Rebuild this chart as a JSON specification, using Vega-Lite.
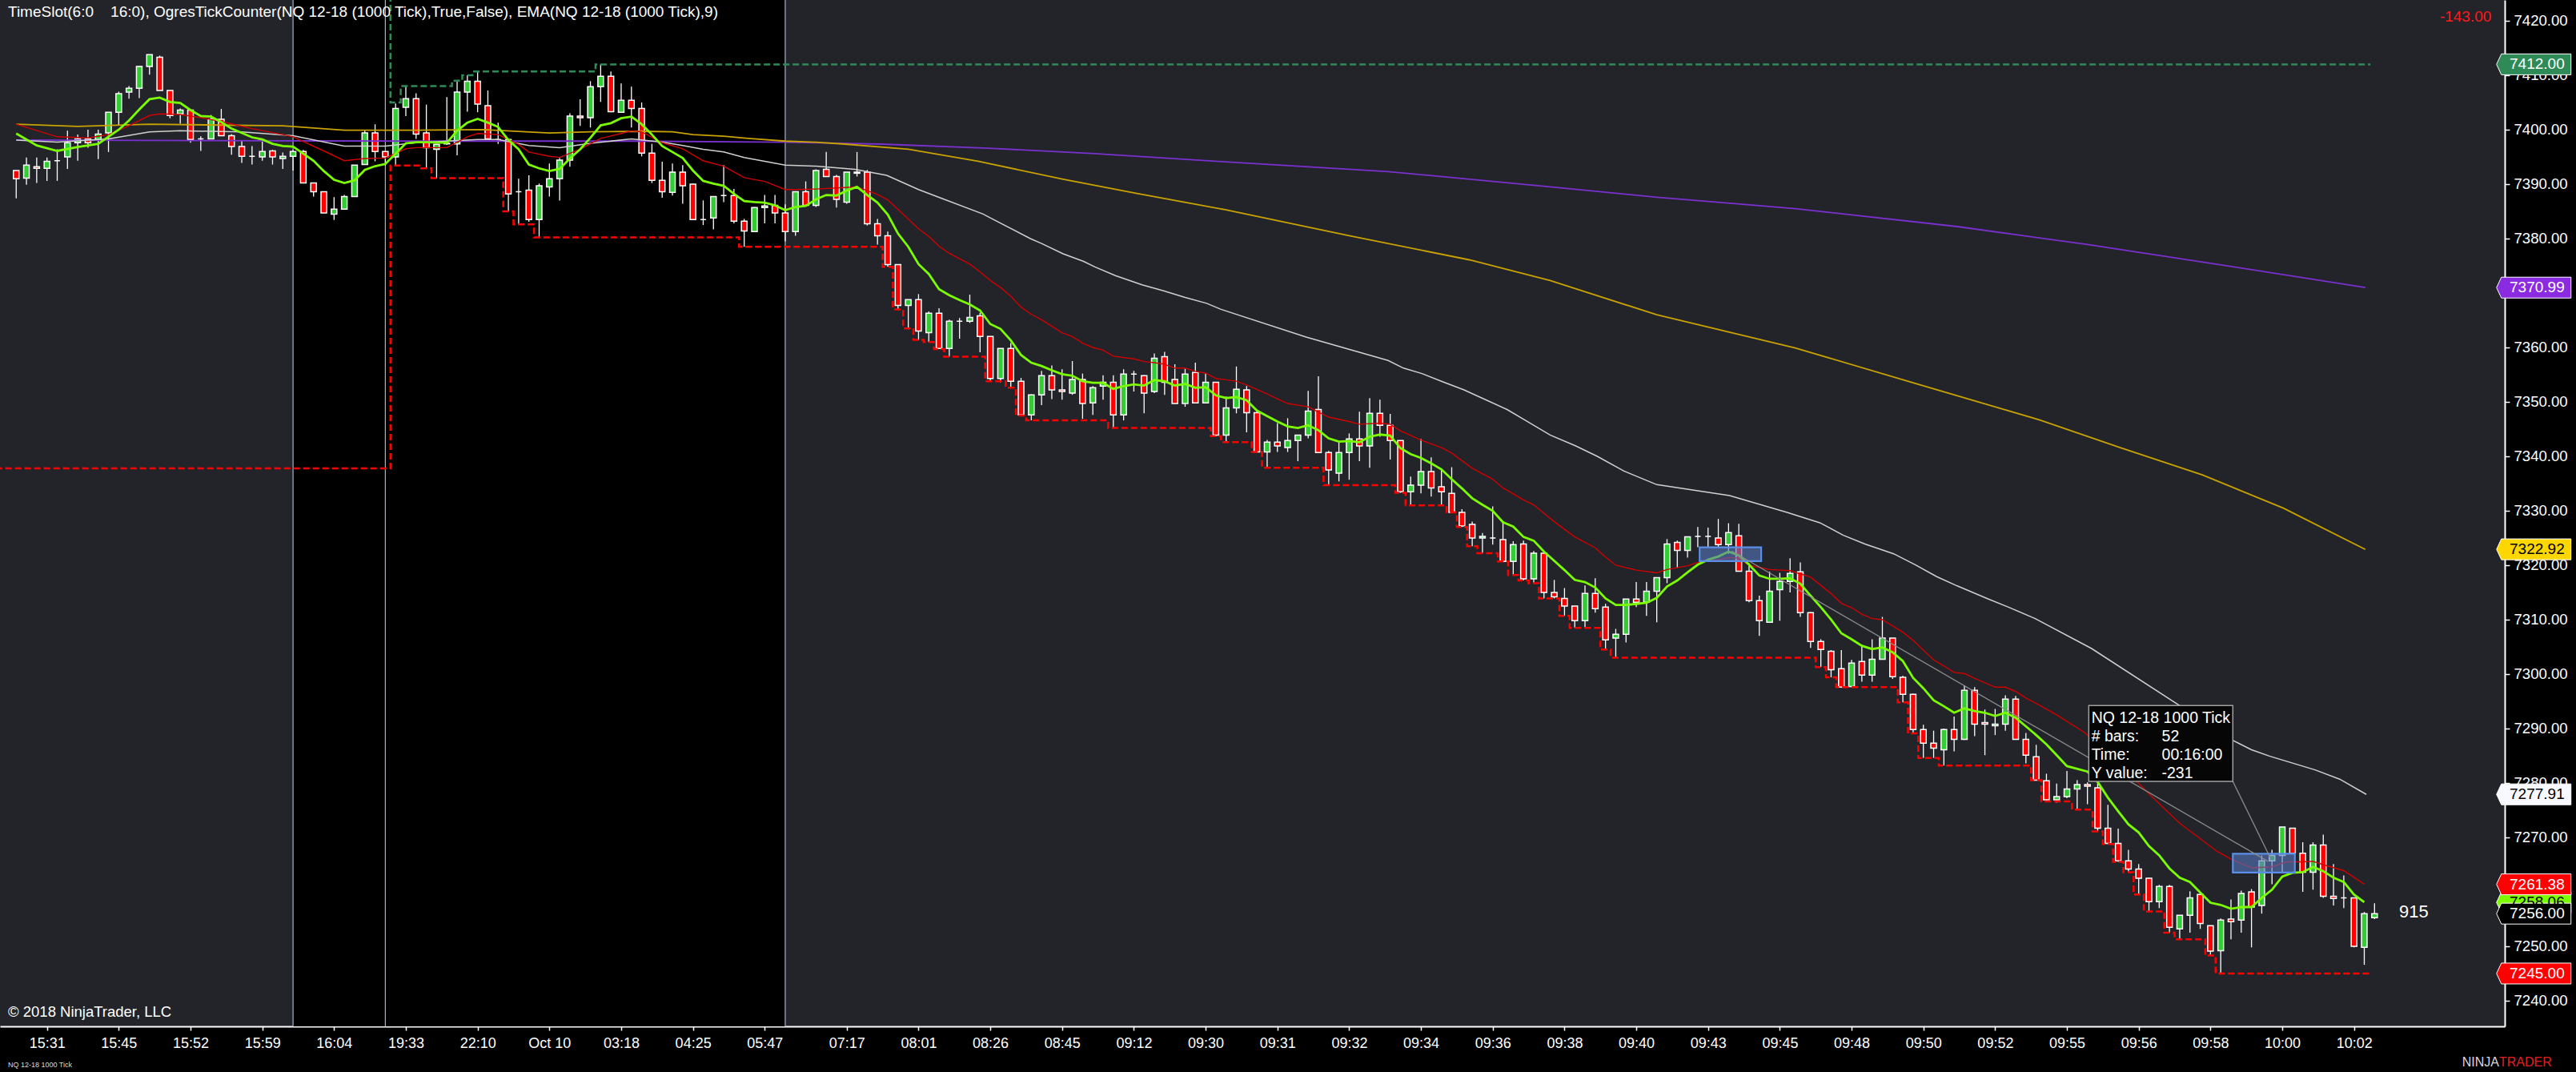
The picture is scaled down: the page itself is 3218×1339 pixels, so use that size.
{
  "$schema": "https://vega.github.io/schema/vega-lite/v6.json",
  "width": 3129,
  "height": 1282,
  "autosize": {"type": "none"},
  "padding": {"left": 0, "top": 0, "right": 89, "bottom": 57},
  "background": "#000000",
  "view": {"fill": "#222429", "stroke": null},
  "config": {
    "axis": {"grid": false, "labelFont": "Liberation Sans", "labelColor": "#ffffff", "tickColor": "#ffffff", "domainColor": "#ffffff"},
    "text": {"font": "Liberation Sans"}
  },
  "datasets": {
    "candles": [
      {"i":0,"o":7392.5,"h":7392.5,"l":7387.4,"c":7391.0},
      {"i":1,"o":7391.1,"h":7394.9,"l":7389.9,"c":7393.5},
      {"i":2,"o":7393.2,"h":7394.9,"l":7390.2,"c":7392.9},
      {"i":3,"o":7392.9,"h":7394.9,"l":7390.6,"c":7394.2},
      {"i":4,"o":7394.3,"h":7396.4,"l":7390.6,"c":7394.3},
      {"i":5,"o":7395.0,"h":7399.8,"l":7392.8,"c":7397.6},
      {"i":6,"o":7397.6,"h":7399.1,"l":7394.3,"c":7398.3},
      {"i":7,"o":7398.3,"h":7400.0,"l":7396.7,"c":7397.6},
      {"i":8,"o":7398.2,"h":7400.0,"l":7394.6,"c":7399.2},
      {"i":9,"o":7399.4,"h":7403.2,"l":7395.9,"c":7403.2},
      {"i":10,"o":7403.2,"h":7407.0,"l":7400.8,"c":7406.6},
      {"i":11,"o":7406.9,"h":7408.0,"l":7405.7,"c":7407.6},
      {"i":12,"o":7407.6,"h":7411.7,"l":7405.8,"c":7411.6},
      {"i":13,"o":7411.6,"h":7413.8,"l":7410.1,"c":7413.8},
      {"i":14,"o":7413.3,"h":7413.6,"l":7407.2,"c":7407.2},
      {"i":15,"o":7407.2,"h":7407.2,"l":7402.1,"c":7402.6},
      {"i":16,"o":7402.9,"h":7403.9,"l":7401.1,"c":7403.6},
      {"i":17,"o":7403.6,"h":7403.6,"l":7397.6,"c":7398.2},
      {"i":18,"o":7398.3,"h":7398.8,"l":7396.1,"c":7398.3},
      {"i":19,"o":7398.3,"h":7402.7,"l":7398.3,"c":7401.9},
      {"i":20,"o":7401.9,"h":7403.8,"l":7398.9,"c":7398.9},
      {"i":21,"o":7398.9,"h":7399.2,"l":7395.4,"c":7396.9},
      {"i":22,"o":7396.9,"h":7398.0,"l":7393.9,"c":7395.1},
      {"i":23,"o":7395.1,"h":7397.0,"l":7393.6,"c":7395.1},
      {"i":24,"o":7395.0,"h":7397.8,"l":7394.3,"c":7396.0},
      {"i":25,"o":7396.1,"h":7396.3,"l":7393.6,"c":7395.0},
      {"i":26,"o":7394.7,"h":7395.8,"l":7392.8,"c":7395.1},
      {"i":27,"o":7395.1,"h":7396.3,"l":7392.5,"c":7396.0},
      {"i":28,"o":7396.0,"h":7396.3,"l":7390.2,"c":7390.2},
      {"i":29,"o":7390.2,"h":7390.2,"l":7387.7,"c":7388.6},
      {"i":30,"o":7388.6,"h":7388.6,"l":7384.7,"c":7384.7},
      {"i":31,"o":7384.5,"h":7387.6,"l":7383.4,"c":7385.4},
      {"i":32,"o":7385.4,"h":7388.0,"l":7385.3,"c":7387.7},
      {"i":33,"o":7387.7,"h":7393.5,"l":7387.7,"c":7393.5},
      {"i":34,"o":7393.6,"h":7400.0,"l":7393.6,"c":7399.4},
      {"i":35,"o":7399.4,"h":7401.0,"l":7394.2,"c":7396.0},
      {"i":36,"o":7396.0,"h":7396.0,"l":7393.4,"c":7395.0},
      {"i":37,"o":7395.0,"h":7404.8,"l":7393.4,"c":7403.9},
      {"i":38,"o":7404.1,"h":7408.0,"l":7402.5,"c":7405.7},
      {"i":39,"o":7405.7,"h":7406.7,"l":7398.3,"c":7399.2},
      {"i":40,"o":7399.4,"h":7404.6,"l":7392.9,"c":7396.7},
      {"i":41,"o":7396.4,"h":7397.4,"l":7391.1,"c":7397.3},
      {"i":42,"o":7397.4,"h":7406.0,"l":7397.2,"c":7397.5},
      {"i":43,"o":7397.4,"h":7409.0,"l":7395.3,"c":7406.9},
      {"i":44,"o":7406.9,"h":7410.0,"l":7403.3,"c":7408.9},
      {"i":45,"o":7408.9,"h":7410.7,"l":7403.2,"c":7404.7},
      {"i":46,"o":7404.4,"h":7407.2,"l":7398.3,"c":7398.3},
      {"i":47,"o":7398.2,"h":7401.3,"l":7397.4,"c":7398.2},
      {"i":48,"o":7398.2,"h":7398.2,"l":7385.0,"c":7388.2},
      {"i":49,"o":7388.6,"h":7391.0,"l":7382.6,"c":7388.6},
      {"i":50,"o":7388.9,"h":7391.6,"l":7383.1,"c":7383.5},
      {"i":51,"o":7383.5,"h":7390.1,"l":7380.2,"c":7389.7},
      {"i":52,"o":7389.5,"h":7393.8,"l":7387.7,"c":7391.0},
      {"i":53,"o":7391.0,"h":7394.8,"l":7387.0,"c":7394.4},
      {"i":54,"o":7394.4,"h":7403.0,"l":7393.2,"c":7402.5},
      {"i":55,"o":7402.5,"h":7405.6,"l":7400.7,"c":7402.2},
      {"i":56,"o":7402.2,"h":7408.9,"l":7400.4,"c":7407.9},
      {"i":57,"o":7407.9,"h":7412.0,"l":7405.1,"c":7409.8},
      {"i":58,"o":7409.8,"h":7410.7,"l":7403.2,"c":7403.3},
      {"i":59,"o":7403.2,"h":7408.5,"l":7403.2,"c":7405.4},
      {"i":60,"o":7405.4,"h":7407.9,"l":7400.4,"c":7403.9},
      {"i":61,"o":7403.9,"h":7405.0,"l":7395.1,"c":7395.7},
      {"i":62,"o":7395.7,"h":7397.4,"l":7390.2,"c":7390.7},
      {"i":63,"o":7390.7,"h":7394.1,"l":7387.5,"c":7388.6},
      {"i":64,"o":7388.5,"h":7393.8,"l":7387.9,"c":7392.2},
      {"i":65,"o":7392.2,"h":7393.5,"l":7386.4,"c":7389.7},
      {"i":66,"o":7390.0,"h":7390.1,"l":7383.5,"c":7383.5},
      {"i":67,"o":7383.5,"h":7387.0,"l":7382.5,"c":7383.5},
      {"i":68,"o":7383.8,"h":7387.7,"l":7381.7,"c":7387.7},
      {"i":69,"o":7387.9,"h":7393.5,"l":7386.7,"c":7387.9},
      {"i":70,"o":7387.9,"h":7389.1,"l":7382.8,"c":7383.2},
      {"i":71,"o":7383.2,"h":7383.6,"l":7378.5,"c":7381.4},
      {"i":72,"o":7381.3,"h":7385.8,"l":7381.3,"c":7385.7},
      {"i":73,"o":7385.7,"h":7388.0,"l":7382.8,"c":7386.0},
      {"i":74,"o":7386.1,"h":7388.0,"l":7382.8,"c":7384.7},
      {"i":75,"o":7384.7,"h":7386.3,"l":7379.5,"c":7381.3},
      {"i":76,"o":7381.3,"h":7388.6,"l":7380.5,"c":7388.6},
      {"i":77,"o":7388.6,"h":7390.5,"l":7386.1,"c":7386.1},
      {"i":78,"o":7386.1,"h":7392.7,"l":7385.8,"c":7392.5},
      {"i":79,"o":7392.7,"h":7395.9,"l":7391.4,"c":7391.4},
      {"i":80,"o":7391.4,"h":7391.7,"l":7385.7,"c":7387.2},
      {"i":81,"o":7386.7,"h":7392.2,"l":7386.4,"c":7392.2},
      {"i":82,"o":7392.0,"h":7395.9,"l":7391.4,"c":7392.2},
      {"i":83,"o":7392.2,"h":7392.6,"l":7382.4,"c":7382.7},
      {"i":84,"o":7382.7,"h":7383.6,"l":7378.9,"c":7380.5},
      {"i":85,"o":7380.5,"h":7381.3,"l":7374.8,"c":7375.2},
      {"i":86,"o":7375.2,"h":7375.2,"l":7367.0,"c":7367.7},
      {"i":87,"o":7367.7,"h":7368.8,"l":7363.5,"c":7368.8},
      {"i":88,"o":7368.8,"h":7369.8,"l":7361.4,"c":7363.0},
      {"i":89,"o":7362.7,"h":7366.6,"l":7361.0,"c":7366.3},
      {"i":90,"o":7366.3,"h":7367.2,"l":7359.7,"c":7359.8},
      {"i":91,"o":7359.8,"h":7365.1,"l":7358.3,"c":7364.8},
      {"i":92,"o":7364.8,"h":7365.4,"l":7361.6,"c":7364.8},
      {"i":93,"o":7364.8,"h":7369.7,"l":7364.5,"c":7365.5},
      {"i":94,"o":7365.8,"h":7366.4,"l":7359.1,"c":7362.0},
      {"i":95,"o":7362.0,"h":7362.0,"l":7353.8,"c":7354.3},
      {"i":96,"o":7354.3,"h":7359.8,"l":7353.6,"c":7359.8},
      {"i":97,"o":7359.8,"h":7360.8,"l":7352.6,"c":7353.8},
      {"i":98,"o":7353.8,"h":7354.4,"l":7347.5,"c":7347.6},
      {"i":99,"o":7347.6,"h":7351.4,"l":7346.6,"c":7351.3},
      {"i":100,"o":7351.3,"h":7355.7,"l":7349.4,"c":7354.8},
      {"i":101,"o":7354.8,"h":7356.7,"l":7350.5,"c":7352.2},
      {"i":102,"o":7352.2,"h":7356.0,"l":7350.4,"c":7351.9},
      {"i":103,"o":7351.6,"h":7357.5,"l":7351.3,"c":7354.1},
      {"i":104,"o":7354.1,"h":7355.2,"l":7346.9,"c":7349.7},
      {"i":105,"o":7349.8,"h":7352.9,"l":7347.6,"c":7352.6},
      {"i":106,"o":7352.9,"h":7354.9,"l":7350.4,"c":7353.6},
      {"i":107,"o":7353.6,"h":7354.9,"l":7345.2,"c":7347.6},
      {"i":108,"o":7347.6,"h":7356.0,"l":7346.6,"c":7355.1},
      {"i":109,"o":7355.1,"h":7355.7,"l":7351.9,"c":7355.1},
      {"i":110,"o":7354.8,"h":7354.9,"l":7347.9,"c":7351.6},
      {"i":111,"o":7351.9,"h":7358.9,"l":7351.6,"c":7358.0},
      {"i":112,"o":7358.3,"h":7359.2,"l":7351.3,"c":7353.6},
      {"i":113,"o":7354.1,"h":7356.9,"l":7349.7,"c":7349.7},
      {"i":114,"o":7349.7,"h":7356.1,"l":7349.1,"c":7355.1},
      {"i":115,"o":7355.4,"h":7357.2,"l":7349.8,"c":7349.8},
      {"i":116,"o":7349.8,"h":7355.2,"l":7349.7,"c":7353.6},
      {"i":117,"o":7353.6,"h":7353.6,"l":7343.7,"c":7343.9},
      {"i":118,"o":7343.9,"h":7351.0,"l":7342.6,"c":7348.9},
      {"i":119,"o":7348.9,"h":7356.5,"l":7347.9,"c":7352.3},
      {"i":120,"o":7352.2,"h":7352.9,"l":7344.4,"c":7348.0},
      {"i":121,"o":7348.0,"h":7348.3,"l":7340.8,"c":7340.8},
      {"i":122,"o":7340.8,"h":7343.0,"l":7337.9,"c":7342.6},
      {"i":123,"o":7342.6,"h":7346.1,"l":7340.8,"c":7341.9},
      {"i":124,"o":7341.6,"h":7347.0,"l":7340.8,"c":7342.9},
      {"i":125,"o":7342.9,"h":7343.9,"l":7339.1,"c":7343.9},
      {"i":126,"o":7343.9,"h":7352.0,"l":7343.3,"c":7348.3},
      {"i":127,"o":7348.6,"h":7354.7,"l":7340.7,"c":7340.7},
      {"i":128,"o":7340.7,"h":7341.0,"l":7334.7,"c":7337.5},
      {"i":129,"o":7336.9,"h":7342.5,"l":7335.4,"c":7340.7},
      {"i":130,"o":7340.7,"h":7344.2,"l":7335.7,"c":7343.2},
      {"i":131,"o":7343.2,"h":7348.2,"l":7339.1,"c":7341.9},
      {"i":132,"o":7341.9,"h":7350.7,"l":7337.9,"c":7347.9},
      {"i":133,"o":7347.9,"h":7350.4,"l":7343.6,"c":7345.7},
      {"i":134,"o":7345.7,"h":7347.8,"l":7339.4,"c":7342.9},
      {"i":135,"o":7342.9,"h":7342.9,"l":7333.3,"c":7333.5},
      {"i":136,"o":7333.5,"h":7336.3,"l":7331.0,"c":7334.7},
      {"i":137,"o":7334.7,"h":7343.2,"l":7333.2,"c":7337.2},
      {"i":138,"o":7337.2,"h":7339.8,"l":7332.6,"c":7334.2},
      {"i":139,"o":7334.4,"h":7337.5,"l":7331.0,"c":7333.5},
      {"i":140,"o":7333.2,"h":7338.0,"l":7329.7,"c":7329.7},
      {"i":141,"o":7329.7,"h":7330.3,"l":7327.0,"c":7327.2},
      {"i":142,"o":7327.5,"h":7328.0,"l":7323.5,"c":7325.0},
      {"i":143,"o":7325.0,"h":7325.9,"l":7322.2,"c":7325.3},
      {"i":144,"o":7325.0,"h":7330.8,"l":7323.8,"c":7325.0},
      {"i":145,"o":7324.7,"h":7327.8,"l":7320.7,"c":7320.7},
      {"i":146,"o":7320.7,"h":7324.4,"l":7318.2,"c":7323.8},
      {"i":147,"o":7323.9,"h":7324.5,"l":7317.2,"c":7317.5},
      {"i":148,"o":7317.5,"h":7322.6,"l":7316.7,"c":7322.2},
      {"i":149,"o":7322.2,"h":7322.2,"l":7313.9,"c":7315.0},
      {"i":150,"o":7315.0,"h":7317.3,"l":7313.9,"c":7314.2},
      {"i":151,"o":7313.9,"h":7315.8,"l":7310.7,"c":7312.5},
      {"i":152,"o":7312.5,"h":7312.5,"l":7308.5,"c":7309.8},
      {"i":153,"o":7309.8,"h":7316.3,"l":7308.6,"c":7314.8},
      {"i":154,"o":7314.8,"h":7317.6,"l":7311.3,"c":7312.0},
      {"i":155,"o":7312.3,"h":7312.9,"l":7304.5,"c":7306.3},
      {"i":156,"o":7306.6,"h":7308.3,"l":7303.0,"c":7307.3},
      {"i":157,"o":7307.3,"h":7313.8,"l":7305.8,"c":7313.8},
      {"i":158,"o":7313.8,"h":7316.9,"l":7312.3,"c":7313.2},
      {"i":159,"o":7313.2,"h":7316.9,"l":7310.7,"c":7315.2},
      {"i":160,"o":7315.2,"h":7317.7,"l":7309.5,"c":7317.7},
      {"i":161,"o":7317.7,"h":7324.8,"l":7316.7,"c":7323.9},
      {"i":162,"o":7324.2,"h":7324.5,"l":7319.5,"c":7322.7},
      {"i":163,"o":7322.7,"h":7325.2,"l":7321.4,"c":7325.2},
      {"i":164,"o":7325.3,"h":7327.0,"l":7323.3,"c":7325.3},
      {"i":165,"o":7325.3,"h":7326.9,"l":7323.3,"c":7325.3},
      {"i":166,"o":7325.0,"h":7328.5,"l":7323.3,"c":7323.8},
      {"i":167,"o":7323.8,"h":7327.7,"l":7322.1,"c":7326.0},
      {"i":168,"o":7325.4,"h":7327.6,"l":7318.9,"c":7318.9},
      {"i":169,"o":7318.9,"h":7320.4,"l":7313.2,"c":7313.5},
      {"i":170,"o":7313.5,"h":7314.4,"l":7307.0,"c":7309.8},
      {"i":171,"o":7309.5,"h":7318.8,"l":7309.5,"c":7315.2},
      {"i":172,"o":7315.5,"h":7318.6,"l":7309.8,"c":7317.0},
      {"i":173,"o":7317.0,"h":7321.3,"l":7315.0,"c":7318.5},
      {"i":174,"o":7318.8,"h":7320.5,"l":7310.5,"c":7311.3},
      {"i":175,"o":7311.3,"h":7311.4,"l":7304.8,"c":7306.0},
      {"i":176,"o":7306.0,"h":7306.4,"l":7301.3,"c":7304.5},
      {"i":177,"o":7304.2,"h":7304.4,"l":7299.4,"c":7300.8},
      {"i":178,"o":7301.0,"h":7304.4,"l":7297.6,"c":7297.6},
      {"i":179,"o":7297.7,"h":7302.6,"l":7297.6,"c":7302.0},
      {"i":180,"o":7302.3,"h":7305.4,"l":7298.6,"c":7299.8},
      {"i":181,"o":7299.8,"h":7306.4,"l":7298.6,"c":7302.7},
      {"i":182,"o":7302.7,"h":7310.5,"l":7302.7,"c":7306.6},
      {"i":183,"o":7306.6,"h":7306.6,"l":7299.1,"c":7299.5},
      {"i":184,"o":7299.4,"h":7299.7,"l":7294.8,"c":7296.3},
      {"i":185,"o":7296.3,"h":7296.4,"l":7289.1,"c":7289.8},
      {"i":186,"o":7289.8,"h":7290.7,"l":7284.6,"c":7287.3},
      {"i":187,"o":7287.3,"h":7289.6,"l":7284.6,"c":7286.4},
      {"i":188,"o":7286.1,"h":7290.0,"l":7283.2,"c":7289.8},
      {"i":189,"o":7289.8,"h":7292.2,"l":7285.8,"c":7288.0},
      {"i":190,"o":7288.0,"h":7297.9,"l":7287.9,"c":7297.0},
      {"i":191,"o":7297.0,"h":7297.6,"l":7288.6,"c":7290.8},
      {"i":192,"o":7291.1,"h":7293.5,"l":7285.1,"c":7290.8},
      {"i":193,"o":7290.5,"h":7293.6,"l":7288.8,"c":7290.8},
      {"i":194,"o":7290.8,"h":7296.1,"l":7289.6,"c":7295.4},
      {"i":195,"o":7295.4,"h":7296.0,"l":7288.0,"c":7288.0},
      {"i":196,"o":7288.0,"h":7289.2,"l":7283.6,"c":7285.1},
      {"i":197,"o":7284.8,"h":7287.0,"l":7280.5,"c":7280.5},
      {"i":198,"o":7280.4,"h":7281.7,"l":7276.6,"c":7276.9},
      {"i":199,"o":7276.9,"h":7279.9,"l":7276.4,"c":7277.5},
      {"i":200,"o":7277.5,"h":7282.2,"l":7277.2,"c":7278.9},
      {"i":201,"o":7278.9,"h":7280.5,"l":7275.1,"c":7279.7},
      {"i":202,"o":7279.7,"h":7280.1,"l":7276.1,"c":7279.4},
      {"i":203,"o":7279.1,"h":7281.3,"l":7271.1,"c":7271.7},
      {"i":204,"o":7271.7,"h":7276.0,"l":7268.8,"c":7268.9},
      {"i":205,"o":7268.9,"h":7271.6,"l":7265.5,"c":7265.7},
      {"i":206,"o":7265.7,"h":7267.7,"l":7263.6,"c":7264.2},
      {"i":207,"o":7264.2,"h":7265.1,"l":7259.5,"c":7262.5},
      {"i":208,"o":7262.5,"h":7262.6,"l":7256.4,"c":7258.2},
      {"i":209,"o":7258.2,"h":7261.3,"l":7257.0,"c":7261.0},
      {"i":210,"o":7261.0,"h":7261.3,"l":7252.5,"c":7253.5},
      {"i":211,"o":7253.2,"h":7255.7,"l":7251.3,"c":7255.7},
      {"i":212,"o":7255.7,"h":7260.1,"l":7252.5,"c":7258.9},
      {"i":213,"o":7259.5,"h":7259.8,"l":7253.2,"c":7254.2},
      {"i":214,"o":7253.8,"h":7253.8,"l":7248.3,"c":7249.1},
      {"i":215,"o":7249.2,"h":7255.1,"l":7245.0,"c":7254.8},
      {"i":216,"o":7255.0,"h":7258.6,"l":7251.3,"c":7254.5},
      {"i":217,"o":7254.8,"h":7260.2,"l":7252.5,"c":7259.7},
      {"i":218,"o":7260.0,"h":7260.5,"l":7249.8,"c":7257.2},
      {"i":219,"o":7257.5,"h":7266.7,"l":7256.0,"c":7265.7},
      {"i":220,"o":7265.7,"h":7267.7,"l":7261.4,"c":7266.7},
      {"i":221,"o":7266.7,"h":7271.9,"l":7263.6,"c":7271.9},
      {"i":222,"o":7271.7,"h":7271.7,"l":7267.1,"c":7267.1},
      {"i":223,"o":7267.1,"h":7269.1,"l":7260.0,"c":7263.6},
      {"i":224,"o":7263.6,"h":7269.1,"l":7260.4,"c":7268.6},
      {"i":225,"o":7268.6,"h":7270.5,"l":7258.9,"c":7259.2},
      {"i":226,"o":7259.2,"h":7265.1,"l":7257.5,"c":7258.8},
      {"i":227,"o":7258.9,"h":7263.0,"l":7257.0,"c":7258.9},
      {"i":228,"o":7258.9,"h":7258.9,"l":7249.8,"c":7250.0},
      {"i":229,"o":7249.8,"h":7256.3,"l":7246.6,"c":7256.0},
      {"i":230,"o":7255.25,"h":7257.9,"l":7255.0,"c":7256.0}
    ],
    "ma": [
      {"s":"p","i":0,"v":7398.1},{"s":"p","i":39,"v":7397.9},{"s":"p","i":60,"v":7397.9},{"s":"p","i":75,"v":7397.7},{"s":"p","i":78,"v":7397.6},{"s":"p","i":84.4,"v":7397.35},{"s":"p","i":94.8,"v":7396.6},{"s":"p","i":105.2,"v":7395.6},{"s":"p","i":117.9,"v":7394.1},{"s":"p","i":133.8,"v":7392.3},{"s":"p","i":149.6,"v":7389.5},{"s":"p","i":160,"v":7387.6},{"s":"p","i":173.5,"v":7385.5},{"s":"p","i":189.3,"v":7382.2},{"s":"p","i":202,"v":7378.9},{"s":"p","i":216.3,"v":7374.8},{"s":"p","i":229.1,"v":7371.0},
      {"s":"y","i":0,"v":7401.0},{"s":"y","i":6,"v":7400.6},{"s":"y","i":13,"v":7401.0},{"s":"y","i":26,"v":7400.7},{"s":"y","i":32,"v":7399.9},{"s":"y","i":39,"v":7399.9},{"s":"y","i":45.5,"v":7400.0},{"s":"y","i":52,"v":7399.4},{"s":"y","i":56,"v":7399.6},{"s":"y","i":61,"v":7399.7},{"s":"y","i":64,"v":7399.6},{"s":"y","i":66,"v":7399.1},{"s":"y","i":69,"v":7398.8},{"s":"y","i":71.4,"v":7398.4},{"s":"y","i":75,"v":7397.9},{"s":"y","i":78,"v":7397.7},{"s":"y","i":80.8,"v":7397.35},{"s":"y","i":87,"v":7396.4},{"s":"y","i":93.8,"v":7394.2},{"s":"y","i":102.1,"v":7390.9},{"s":"y","i":109.3,"v":7388.3},{"s":"y","i":117.9,"v":7385.3},{"s":"y","i":129.8,"v":7380.6},{"s":"y","i":141.7,"v":7376.1},{"s":"y","i":149.6,"v":7372.3},{"s":"y","i":160,"v":7366.0},{"s":"y","i":173.5,"v":7359.9},{"s":"y","i":185.4,"v":7353.3},{"s":"y","i":197.3,"v":7346.7},{"s":"y","i":205.2,"v":7341.6},{"s":"y","i":213.2,"v":7336.6},{"s":"y","i":221.1,"v":7330.5},{"s":"y","i":229.1,"v":7322.9},
      {"s":"w","i":0,"v":7398.1},{"s":"w","i":4,"v":7397.7},{"s":"w","i":9,"v":7398.3},{"s":"w","i":13,"v":7399.6},{"s":"w","i":16,"v":7399.8},{"s":"w","i":22,"v":7399.6},{"s":"w","i":27,"v":7398.9},{"s":"w","i":32,"v":7397.0},{"s":"w","i":36,"v":7397.0},{"s":"w","i":39,"v":7397.6},{"s":"w","i":45,"v":7398.2},{"s":"w","i":47,"v":7398.2},{"s":"w","i":50,"v":7397.1},{"s":"w","i":53,"v":7396.7},{"s":"w","i":56,"v":7397.5},{"s":"w","i":60,"v":7398.3},{"s":"w","i":63,"v":7397.7},{"s":"w","i":65,"v":7397.1},{"s":"w","i":67,"v":7396.4},{"s":"w","i":69,"v":7395.9},{"s":"w","i":71,"v":7394.9},{"s":"w","i":73,"v":7394.2},{"s":"w","i":75,"v":7393.5},{"s":"w","i":78,"v":7393.3},{"s":"w","i":81.8,"v":7392.7},{"s":"w","i":84.9,"v":7391.6},{"s":"w","i":88,"v":7389.0},{"s":"w","i":90.1,"v":7387.5},{"s":"w","i":94.3,"v":7384.5},{"s":"w","i":95.3,"v":7383.5},{"s":"w","i":98.9,"v":7380.0},{"s":"w","i":100,"v":7379.1},{"s":"w","i":102.1,"v":7377.2},{"s":"w","i":104.1,"v":7375.8},{"s":"w","i":105.2,"v":7374.8},{"s":"w","i":107.2,"v":7373.2},{"s":"w","i":109.8,"v":7371.5},{"s":"w","i":111.9,"v":7370.4},{"s":"w","i":114,"v":7369.2},{"s":"w","i":116.1,"v":7368.1},{"s":"w","i":117.5,"v":7367.0},{"s":"w","i":125.8,"v":7361.9},{"s":"w","i":133.8,"v":7357.6},{"s":"w","i":135.3,"v":7356.2},{"s":"w","i":137.1,"v":7355.2},{"s":"w","i":139.1,"v":7353.7},{"s":"w","i":141.2,"v":7352.2},{"s":"w","i":143.3,"v":7350.4},{"s":"w","i":145.4,"v":7348.6},{"s":"w","i":147.2,"v":7346.6},{"s":"w","i":149.6,"v":7343.9},{"s":"w","i":152.1,"v":7341.9},{"s":"w","i":154.2,"v":7340.0},{"s":"w","i":156.8,"v":7337.3},{"s":"w","i":160,"v":7334.8},{"s":"w","i":167.1,"v":7332.8},{"s":"w","i":172.7,"v":7329.7},{"s":"w","i":175.9,"v":7327.8},{"s":"w","i":178.2,"v":7325.5},{"s":"w","i":180.3,"v":7323.9},{"s":"w","i":183.1,"v":7322.1},{"s":"w","i":185.2,"v":7320.1},{"s":"w","i":187.3,"v":7317.9},{"s":"w","i":189.3,"v":7316.2},{"s":"w","i":192.2,"v":7313.9},{"s":"w","i":194.3,"v":7312.3},{"s":"w","i":196.9,"v":7310.2},{"s":"w","i":202.4,"v":7304.7},{"s":"w","i":211,"v":7294.2},{"s":"w","i":216.2,"v":7287.8},{"s":"w","i":218,"v":7286.1},{"s":"w","i":219.8,"v":7284.9},{"s":"w","i":224.2,"v":7282.4},{"s":"w","i":226.6,"v":7280.7},{"s":"w","i":229.2,"v":7277.9},
      {"s":"r","i":0,"v":7401.0},{"s":"r","i":4,"v":7398.7},{"s":"r","i":7,"v":7398.5},{"s":"r","i":9,"v":7399.1},{"s":"r","i":11,"v":7400.7},{"s":"r","i":13,"v":7402.6},{"s":"r","i":14,"v":7402.9},{"s":"r","i":16,"v":7402.8},{"s":"r","i":18,"v":7402.2},{"s":"r","i":20,"v":7401.5},{"s":"r","i":23,"v":7400.2},{"s":"r","i":26,"v":7399.1},{"s":"r","i":27,"v":7398.7},{"s":"r","i":30,"v":7396.1},{"s":"r","i":32,"v":7394.3},{"s":"r","i":34,"v":7394.7},{"s":"r","i":36,"v":7394.8},{"s":"r","i":38,"v":7396.5},{"s":"r","i":39,"v":7396.7},{"s":"r","i":42,"v":7396.7},{"s":"r","i":44,"v":7398.7},{"s":"r","i":45,"v":7399.3},{"s":"r","i":47,"v":7399.1},{"s":"r","i":49,"v":7397.3},{"s":"r","i":50,"v":7395.9},{"s":"r","i":52,"v":7395.1},{"s":"r","i":53,"v":7394.9},{"s":"r","i":55,"v":7396.4},{"s":"r","i":57,"v":7398.4},{"s":"r","i":59,"v":7399.3},{"s":"r","i":60,"v":7399.8},{"s":"r","i":61,"v":7399.6},{"s":"r","i":63,"v":7397.6},{"s":"r","i":65,"v":7396.5},{"s":"r","i":67,"v":7394.3},{"s":"r","i":69,"v":7393.3},{"s":"r","i":71,"v":7391.2},{"s":"r","i":73,"v":7390.5},{"s":"r","i":75,"v":7389.0},{"s":"r","i":76,"v":7389.0},{"s":"r","i":78,"v":7389.1},{"s":"r","i":80,"v":7389.3},{"s":"r","i":82,"v":7389.5},{"s":"r","i":84,"v":7388.1},{"s":"r","i":85,"v":7387.1},{"s":"r","i":87,"v":7383.6},{"s":"r","i":88,"v":7381.8},{"s":"r","i":89,"v":7380.4},{"s":"r","i":90,"v":7378.6},{"s":"r","i":91,"v":7377.3},{"s":"r","i":93,"v":7375.3},{"s":"r","i":94,"v":7373.9},{"s":"r","i":95,"v":7372.3},{"s":"r","i":96,"v":7371.0},{"s":"r","i":97,"v":7369.4},{"s":"r","i":98,"v":7367.4},{"s":"r","i":99,"v":7366.1},{"s":"r","i":100,"v":7365.1},{"s":"r","i":101,"v":7363.9},{"s":"r","i":102,"v":7362.7},{"s":"r","i":103,"v":7362.0},{"s":"r","i":104,"v":7360.8},{"s":"r","i":105,"v":7360.0},{"s":"r","i":106,"v":7359.5},{"s":"r","i":107,"v":7358.4},{"s":"r","i":109,"v":7357.9},{"s":"r","i":110,"v":7357.4},{"s":"r","i":111,"v":7357.2},{"s":"r","i":112,"v":7356.9},{"s":"r","i":113,"v":7356.2},{"s":"r","i":114,"v":7356.2},{"s":"r","i":115,"v":7355.6},{"s":"r","i":116,"v":7355.3},{"s":"r","i":117,"v":7354.3},{"s":"r","i":119,"v":7353.8},{"s":"r","i":120,"v":7353.1},{"s":"r","i":121.5,"v":7351.9},{"s":"r","i":124,"v":7349.7},{"s":"r","i":126,"v":7349.1},{"s":"r","i":128,"v":7347.2},{"s":"r","i":130,"v":7346.4},{"s":"r","i":131,"v":7345.9},{"s":"r","i":133,"v":7346.1},{"s":"r","i":134,"v":7345.9},{"s":"r","i":135,"v":7344.7},{"s":"r","i":137,"v":7343.0},{"s":"r","i":139,"v":7341.6},{"s":"r","i":140,"v":7340.6},{"s":"r","i":142,"v":7337.8},{"s":"r","i":144,"v":7335.8},{"s":"r","i":145,"v":7334.2},{"s":"r","i":147,"v":7332.0},{"s":"r","i":148,"v":7331.1},{"s":"r","i":150,"v":7328.0},{"s":"r","i":152,"v":7325.2},{"s":"r","i":154,"v":7323.2},{"s":"r","i":155,"v":7321.5},{"s":"r","i":156,"v":7320.0},{"s":"r","i":158,"v":7319.1},{"s":"r","i":160,"v":7318.6},{"s":"r","i":161,"v":7319.2},{"s":"r","i":163,"v":7319.9},{"s":"r","i":164,"v":7320.5},{"s":"r","i":166,"v":7321.0},{"s":"r","i":167,"v":7321.4},{"s":"r","i":168,"v":7321.3},{"s":"r","i":169,"v":7320.0},{"s":"r","i":171,"v":7319.2},{"s":"r","i":173,"v":7319.0},{"s":"r","i":175,"v":7317.8},{"s":"r","i":177,"v":7314.8},{"s":"r","i":178,"v":7313.0},{"s":"r","i":179,"v":7312.2},{"s":"r","i":180,"v":7311.0},{"s":"r","i":181,"v":7310.2},{"s":"r","i":182,"v":7310.0},{"s":"r","i":184,"v":7307.7},{"s":"r","i":185,"v":7306.2},{"s":"r","i":187,"v":7302.6},{"s":"r","i":188,"v":7301.5},{"s":"r","i":189,"v":7300.3},{"s":"r","i":190,"v":7300.1},{"s":"r","i":191,"v":7299.2},{"s":"r","i":193,"v":7297.6},{"s":"r","i":194,"v":7297.6},{"s":"r","i":195,"v":7296.8},{"s":"r","i":196,"v":7295.6},{"s":"r","i":197,"v":7294.6},{"s":"r","i":199,"v":7292.5},{"s":"r","i":201.7,"v":7289.3},{"s":"r","i":204.3,"v":7285.1},{"s":"r","i":208,"v":7278.0},{"s":"r","i":211,"v":7272.6},{"s":"r","i":214.6,"v":7267.5},{"s":"r","i":216,"v":7266.0},{"s":"r","i":218,"v":7264.4},{"s":"r","i":220,"v":7264.6},{"s":"r","i":221.4,"v":7265.5},{"s":"r","i":223,"v":7265.5},{"s":"r","i":224,"v":7265.6},{"s":"r","i":225,"v":7265.0},{"s":"r","i":227,"v":7263.9},{"s":"r","i":229,"v":7261.4},
      {"s":"g","i":0,"v":7399.3},{"s":"g","i":2,"v":7397.1},{"s":"g","i":4,"v":7396.1},{"s":"g","i":6,"v":7396.8},{"s":"g","i":8,"v":7397.4},{"s":"g","i":10,"v":7400.0},{"s":"g","i":11,"v":7401.7},{"s":"g","i":12,"v":7403.7},{"s":"g","i":13,"v":7405.6},{"s":"g","i":14,"v":7405.9},{"s":"g","i":15,"v":7405.1},{"s":"g","i":16,"v":7404.9},{"s":"g","i":17,"v":7403.6},{"s":"g","i":18,"v":7402.5},{"s":"g","i":19,"v":7402.4},{"s":"g","i":20,"v":7401.4},{"s":"g","i":21,"v":7400.2},{"s":"g","i":23,"v":7398.6},{"s":"g","i":24,"v":7398.2},{"s":"g","i":25,"v":7397.4},{"s":"g","i":26,"v":7397.0},{"s":"g","i":27,"v":7396.9},{"s":"g","i":28,"v":7395.6},{"s":"g","i":29,"v":7394.3},{"s":"g","i":30,"v":7392.4},{"s":"g","i":31,"v":7390.8},{"s":"g","i":32,"v":7390.2},{"s":"g","i":33,"v":7390.7},{"s":"g","i":34,"v":7392.6},{"s":"g","i":35,"v":7393.3},{"s":"g","i":36,"v":7393.7},{"s":"g","i":37,"v":7395.6},{"s":"g","i":38,"v":7397.5},{"s":"g","i":39,"v":7397.7},{"s":"g","i":40,"v":7397.7},{"s":"g","i":42,"v":7397.6},{"s":"g","i":43,"v":7399.8},{"s":"g","i":44,"v":7401.3},{"s":"g","i":45,"v":7402.0},{"s":"g","i":46,"v":7401.3},{"s":"g","i":47,"v":7400.5},{"s":"g","i":48,"v":7398.1},{"s":"g","i":49,"v":7396.4},{"s":"g","i":50,"v":7393.6},{"s":"g","i":51,"v":7392.9},{"s":"g","i":52,"v":7392.4},{"s":"g","i":53,"v":7392.8},{"s":"g","i":54,"v":7394.7},{"s":"g","i":55,"v":7396.4},{"s":"g","i":56,"v":7398.5},{"s":"g","i":57,"v":7400.8},{"s":"g","i":58,"v":7401.2},{"s":"g","i":59,"v":7402.1},{"s":"g","i":60,"v":7402.4},{"s":"g","i":61,"v":7401.0},{"s":"g","i":62,"v":7399.1},{"s":"g","i":63,"v":7397.0},{"s":"g","i":64,"v":7395.9},{"s":"g","i":65,"v":7394.8},{"s":"g","i":66,"v":7392.5},{"s":"g","i":67,"v":7390.6},{"s":"g","i":68,"v":7390.1},{"s":"g","i":69,"v":7389.7},{"s":"g","i":70,"v":7388.2},{"s":"g","i":71,"v":7386.9},{"s":"g","i":72,"v":7386.7},{"s":"g","i":73,"v":7386.6},{"s":"g","i":74,"v":7386.1},{"s":"g","i":75,"v":7385.2},{"s":"g","i":76,"v":7385.8},{"s":"g","i":77,"v":7386.0},{"s":"g","i":78,"v":7387.2},{"s":"g","i":79,"v":7388.0},{"s":"g","i":80,"v":7387.9},{"s":"g","i":81,"v":7388.8},{"s":"g","i":82,"v":7389.5},{"s":"g","i":83,"v":7388.0},{"s":"g","i":84,"v":7386.6},{"s":"g","i":85,"v":7384.4},{"s":"g","i":86,"v":7380.9},{"s":"g","i":87,"v":7378.5},{"s":"g","i":88,"v":7375.3},{"s":"g","i":89,"v":7373.5},{"s":"g","i":90,"v":7370.7},{"s":"g","i":91,"v":7369.6},{"s":"g","i":92,"v":7368.7},{"s":"g","i":93,"v":7367.9},{"s":"g","i":94,"v":7366.8},{"s":"g","i":95,"v":7364.3},{"s":"g","i":96,"v":7363.4},{"s":"g","i":97,"v":7361.3},{"s":"g","i":98,"v":7358.6},{"s":"g","i":99,"v":7357.2},{"s":"g","i":100,"v":7356.6},{"s":"g","i":101,"v":7355.8},{"s":"g","i":102,"v":7355.1},{"s":"g","i":103,"v":7354.8},{"s":"g","i":104,"v":7353.8},{"s":"g","i":105,"v":7353.5},{"s":"g","i":106,"v":7353.5},{"s":"g","i":107,"v":7352.4},{"s":"g","i":108,"v":7352.9},{"s":"g","i":109,"v":7353.2},{"s":"g","i":110,"v":7353.0},{"s":"g","i":111,"v":7354.0},{"s":"g","i":112,"v":7353.8},{"s":"g","i":113,"v":7353.0},{"s":"g","i":114,"v":7353.3},{"s":"g","i":115,"v":7352.6},{"s":"g","i":116,"v":7352.7},{"s":"g","i":117,"v":7351.2},{"s":"g","i":118,"v":7350.7},{"s":"g","i":119,"v":7350.9},{"s":"g","i":120,"v":7350.3},{"s":"g","i":121,"v":7348.4},{"s":"g","i":122,"v":7347.4},{"s":"g","i":123,"v":7346.4},{"s":"g","i":124,"v":7345.5},{"s":"g","i":125,"v":7345.2},{"s":"g","i":126,"v":7345.7},{"s":"g","i":127,"v":7344.8},{"s":"g","i":128,"v":7343.3},{"s":"g","i":129,"v":7342.7},{"s":"g","i":130,"v":7342.8},{"s":"g","i":131,"v":7342.6},{"s":"g","i":132,"v":7343.6},{"s":"g","i":133,"v":7344.0},{"s":"g","i":134,"v":7343.8},{"s":"g","i":135,"v":7341.5},{"s":"g","i":136,"v":7340.4},{"s":"g","i":137,"v":7339.7},{"s":"g","i":138,"v":7338.7},{"s":"g","i":139,"v":7337.6},{"s":"g","i":140,"v":7335.8},{"s":"g","i":141,"v":7334.1},{"s":"g","i":142,"v":7332.3},{"s":"g","i":143,"v":7331.1},{"s":"g","i":144,"v":7330.0},{"s":"g","i":145,"v":7327.9},{"s":"g","i":146,"v":7327.1},{"s":"g","i":147,"v":7325.2},{"s":"g","i":148,"v":7324.5},{"s":"g","i":149,"v":7322.5},{"s":"g","i":150,"v":7320.8},{"s":"g","i":151,"v":7319.1},{"s":"g","i":152,"v":7317.3},{"s":"g","i":153,"v":7316.9},{"s":"g","i":154,"v":7315.9},{"s":"g","i":155,"v":7313.9},{"s":"g","i":156,"v":7312.7},{"s":"g","i":157,"v":7312.7},{"s":"g","i":158,"v":7312.9},{"s":"g","i":159,"v":7313.1},{"s":"g","i":160,"v":7314.0},{"s":"g","i":161,"v":7316.1},{"s":"g","i":162,"v":7317.2},{"s":"g","i":163,"v":7318.7},{"s":"g","i":164,"v":7320.1},{"s":"g","i":165,"v":7321.0},{"s":"g","i":166,"v":7321.6},{"s":"g","i":167,"v":7322.5},{"s":"g","i":168,"v":7321.8},{"s":"g","i":169,"v":7320.1},{"s":"g","i":170,"v":7318.1},{"s":"g","i":171,"v":7317.5},{"s":"g","i":172,"v":7317.5},{"s":"g","i":173,"v":7317.6},{"s":"g","i":174,"v":7316.6},{"s":"g","i":175,"v":7314.4},{"s":"g","i":176,"v":7312.3},{"s":"g","i":177,"v":7310.0},{"s":"g","i":178,"v":7307.5},{"s":"g","i":179,"v":7306.4},{"s":"g","i":180,"v":7305.2},{"s":"g","i":181,"v":7304.6},{"s":"g","i":182,"v":7304.9},{"s":"g","i":183,"v":7304.0},{"s":"g","i":184,"v":7302.4},{"s":"g","i":185,"v":7299.3},{"s":"g","i":186,"v":7297.4},{"s":"g","i":187,"v":7295.2},{"s":"g","i":188,"v":7294.1},{"s":"g","i":189,"v":7292.9},{"s":"g","i":190,"v":7293.7},{"s":"g","i":191,"v":7293.2},{"s":"g","i":192,"v":7292.9},{"s":"g","i":193,"v":7292.3},{"s":"g","i":194,"v":7292.9},{"s":"g","i":195,"v":7292.0},{"s":"g","i":196,"v":7290.4},{"s":"g","i":197,"v":7288.8},{"s":"g","i":198,"v":7287.1},{"s":"g","i":199,"v":7285.1},{"s":"g","i":200,"v":7283.1},{"s":"g","i":202,"v":7282.1},{"s":"g","i":203,"v":7280.2},{"s":"g","i":204,"v":7277.3},{"s":"g","i":205,"v":7274.8},{"s":"g","i":206,"v":7272.4},{"s":"g","i":207,"v":7270.9},{"s":"g","i":208,"v":7268.4},{"s":"g","i":209,"v":7266.7},{"s":"g","i":210,"v":7264.3},{"s":"g","i":211,"v":7262.6},{"s":"g","i":212,"v":7261.8},{"s":"g","i":213,"v":7259.9},{"s":"g","i":214,"v":7258.0},{"s":"g","i":215,"v":7257.6},{"s":"g","i":216,"v":7256.9},{"s":"g","i":217,"v":7257.2},{"s":"g","i":218,"v":7257.2},{"s":"g","i":219,"v":7258.9},{"s":"g","i":220,"v":7260.4},{"s":"g","i":221,"v":7262.8},{"s":"g","i":222,"v":7263.5},{"s":"g","i":223,"v":7263.6},{"s":"g","i":224,"v":7264.6},{"s":"g","i":225,"v":7263.8},{"s":"g","i":226,"v":7262.6},{"s":"g","i":227,"v":7261.8},{"s":"g","i":228,"v":7259.5},{"s":"g","i":229,"v":7258.1}
    ],
    "lowstep": [
      {"n":0,"i":-2,"v":7337.8},{"n":1,"i":36.5,"v":7393.4},{"n":2,"i":39.5,"v":7392.9},{"n":3,"i":40.5,"v":7391.1},{"n":4,"i":47.5,"v":7385.0},{"n":5,"i":48.5,"v":7382.6},{"n":6,"i":50.5,"v":7380.2},{"n":7,"i":70.5,"v":7378.5},{"n":8,"i":84.5,"v":7374.8},{"n":9,"i":85.5,"v":7367.0},{"n":10,"i":86.5,"v":7363.5},{"n":11,"i":87.5,"v":7361.4},{"n":12,"i":88.5,"v":7361.0},{"n":13,"i":89.5,"v":7359.7},{"n":14,"i":90.5,"v":7358.3},{"n":15,"i":94.5,"v":7353.8},{"n":16,"i":96.5,"v":7352.6},{"n":17,"i":97.5,"v":7347.5},{"n":18,"i":98.5,"v":7346.6},{"n":19,"i":106.5,"v":7345.2},{"n":20,"i":116.5,"v":7343.7},{"n":21,"i":117.5,"v":7342.6},{"n":22,"i":120.5,"v":7340.8},{"n":23,"i":121.5,"v":7337.9},{"n":24,"i":127.5,"v":7334.7},{"n":25,"i":134.5,"v":7333.3},{"n":26,"i":135.5,"v":7331.0},{"n":27,"i":139.5,"v":7329.7},{"n":28,"i":140.5,"v":7327.0},{"n":29,"i":141.5,"v":7323.5},{"n":30,"i":142.5,"v":7322.2},{"n":31,"i":144.5,"v":7320.7},{"n":32,"i":145.5,"v":7318.2},{"n":33,"i":146.5,"v":7317.2},{"n":34,"i":147.5,"v":7316.7},{"n":35,"i":148.5,"v":7313.9},{"n":36,"i":150.5,"v":7310.7},{"n":37,"i":151.5,"v":7308.5},{"n":38,"i":154.5,"v":7304.5},{"n":39,"i":155.5,"v":7303.0},{"n":40,"i":175.5,"v":7301.3},{"n":41,"i":176.5,"v":7299.4},{"n":42,"i":177.5,"v":7297.6},{"n":43,"i":183.5,"v":7294.8},{"n":44,"i":184.5,"v":7289.1},{"n":45,"i":185.5,"v":7284.6},{"n":46,"i":187.5,"v":7283.2},{"n":47,"i":196.5,"v":7280.5},{"n":48,"i":197.5,"v":7276.6},{"n":49,"i":200.5,"v":7275.1},{"n":50,"i":202.5,"v":7271.1},{"n":51,"i":203.5,"v":7268.8},{"n":52,"i":204.5,"v":7265.5},{"n":53,"i":205.5,"v":7263.6},{"n":54,"i":206.5,"v":7259.5},{"n":55,"i":207.5,"v":7256.4},{"n":56,"i":209.5,"v":7252.5},{"n":57,"i":210.5,"v":7251.3},{"n":58,"i":213.5,"v":7248.3},{"n":59,"i":214.5,"v":7245.0},{"n":60,"i":229.6,"v":7245.0}
    ],
    "highstep": [
      {"n":0,"i":36.5,"v":7430.0},{"n":1,"i":36.5,"v":7405.0},{"n":2,"i":37.5,"v":7408.0},{"n":3,"i":42.5,"v":7409.0},{"n":4,"i":43.5,"v":7410.0},{"n":5,"i":44.5,"v":7410.7},{"n":6,"i":56.5,"v":7412.0},{"n":7,"i":229.6,"v":7412.0}
    ],
    "markers": [
      {"k":"hi","v":7412.00},{"k":"ema5","v":7370.99},{"k":"ema4","v":7322.92},{"k":"ema3","v":7277.91},{"k":"ema1","v":7258.06},{"k":"ema2","v":7261.38},{"k":"last","v":7256.00},{"k":"lo","v":7245.00}
    ]
  },
  "layer": [
    {
      "data": {"values": [{"a": 27, "b": 75}]},
      "mark": {"type": "rect", "color": "#000000", "clip": true},
      "encoding": {
        "x": {"field": "a", "type": "quantitative", "scale": {"domain": [-1.19, 242.31], "nice": false, "zero": false},
          "axis": {"title": null, "orient": "bottom", "values": [3,10,17,24,31,38,45,52,59,66,73,81,88,95,102,109,116,123,130,137,144,151,158,165,172,179,186,193,200,207,214,221,228],
            "labelExpr": "['15:31','15:45','15:52','15:59','16:04','19:33','22:10','Oct 10','03:18','04:25','05:47','07:17','08:01','08:26','08:45','09:12','09:30','09:31','09:32','09:34','09:36','09:38','09:40','09:43','09:45','09:48','09:50','09:52','09:55','09:56','09:58','10:00','10:02'][indexof([3,10,17,24,31,38,45,52,59,66,73,81,88,95,102,109,116,123,130,137,144,151,158,165,172,179,186,193,200,207,214,221,228], datum.value)]",
            "labelFontSize": 18, "labelPadding": 7, "tickSize": 5, "tickWidth": 1.5, "domainWidth": 2, "labelFlush": false, "labelOverlap": false}},
        "x2": {"field": "b"},
        "y": {"datum": 7430, "type": "quantitative", "scale": {"domain": [7235.29, 7423.82], "nice": false, "zero": false},
          "axis": {"title": null, "orient": "right", "values": [7240,7250,7260,7270,7280,7290,7300,7310,7320,7330,7340,7350,7360,7370,7380,7390,7400,7410,7420],
            "format": ".2f", "labelFontSize": 18.6, "labelPadding": 5, "tickSize": 6, "tickWidth": 1.5, "domainWidth": 2, "labelFlush": false, "labelOverlap": false}},
        "y2": {"datum": 7230}
      }
    },
    {
      "data": {"values": [{"p": 27}, {"p": 36}, {"p": 75}]},
      "mark": {"type": "rule", "color": "#aab4c8", "strokeWidth": 1.2},
      "encoding": {"x": {"field": "p", "type": "quantitative"}}
    },
    {
      "data": {"name": "candles"},
      "mark": {"type": "rule", "color": "#ffffff", "strokeWidth": 1.3},
      "encoding": {
        "x": {"field": "i", "type": "quantitative"},
        "y": {"field": "l", "type": "quantitative"},
        "y2": {"field": "h"}
      }
    },
    {
      "data": {"name": "candles"},
      "mark": {"type": "bar", "width": 7, "stroke": "#ffffff", "strokeWidth": 1.5, "orient": "vertical"},
      "encoding": {
        "x": {"field": "i", "type": "quantitative"},
        "y": {"field": "o", "type": "quantitative"},
        "y2": {"field": "c"},
        "fill": {"condition": {"test": "datum.c > datum.o", "value": "#32cd32"}, "value": "#ff0000"}
      }
    },
    {
      "data": {"name": "ma"},
      "transform": [{"filter": "datum.s == 'p'"}],
      "mark": {"type": "line", "color": "#7b30d0", "strokeWidth": 1.8},
      "encoding": {"x": {"field": "i", "type": "quantitative"}, "y": {"field": "v", "type": "quantitative"}}
    },
    {
      "data": {"name": "ma"},
      "transform": [{"filter": "datum.s == 'y'"}],
      "mark": {"type": "line", "color": "#c9a200", "strokeWidth": 1.8},
      "encoding": {"x": {"field": "i", "type": "quantitative"}, "y": {"field": "v", "type": "quantitative"}}
    },
    {
      "data": {"name": "ma"},
      "transform": [{"filter": "datum.s == 'w'"}],
      "mark": {"type": "line", "color": "#d0d0d0", "strokeWidth": 1.5},
      "encoding": {"x": {"field": "i", "type": "quantitative"}, "y": {"field": "v", "type": "quantitative"}}
    },
    {
      "data": {"name": "ma"},
      "transform": [{"filter": "datum.s == 'r'"}],
      "mark": {"type": "line", "color": "#d00000", "strokeWidth": 1.4},
      "encoding": {"x": {"field": "i", "type": "quantitative"}, "y": {"field": "v", "type": "quantitative"}}
    },
    {
      "data": {"name": "ma"},
      "transform": [{"filter": "datum.s == 'g'"}],
      "mark": {"type": "line", "color": "#7cfc00", "strokeWidth": 2.8},
      "encoding": {"x": {"field": "i", "type": "quantitative"}, "y": {"field": "v", "type": "quantitative"}}
    },
    {
      "data": {"name": "lowstep"},
      "mark": {"type": "line", "color": "#ff0000", "strokeWidth": 2.5, "strokeDash": [8, 4], "interpolate": "step-after", "clip": true},
      "encoding": {"x": {"field": "i", "type": "quantitative"}, "y": {"field": "v", "type": "quantitative"}, "order": {"field": "n"}}
    },
    {
      "data": {"name": "highstep"},
      "mark": {"type": "line", "color": "#2e8b57", "strokeWidth": 2.5, "strokeDash": [8, 4], "interpolate": "step-after", "clip": true},
      "encoding": {"x": {"field": "i", "type": "quantitative"}, "y": {"field": "v", "type": "quantitative"}, "order": {"field": "n"}}
    },
    {
      "data": {"values": [{"a": 164.18, "b": 170.18, "lo": 7320.74, "hi": 7323.28}, {"a": 216.18, "b": 222.23, "lo": 7263.53, "hi": 7267.01}]},
      "mark": {"type": "rect", "fill": "#5878c0", "fillOpacity": 0.6, "stroke": "#5b8ee6", "strokeWidth": 2.2},
      "encoding": {"x": {"field": "a", "type": "quantitative"}, "x2": {"field": "b"}, "y": {"field": "lo", "type": "quantitative"}, "y2": {"field": "hi"}}
    },
    {
      "data": {"values": [{"a": 167.3, "b": 219.6, "p": 7322.6, "q": 7265.6}, {"a": 216.18, "b": 219.9, "p": 7280.29, "q": 7266.0}]},
      "mark": {"type": "rule", "color": "#8c8c8c", "strokeWidth": 1.3},
      "encoding": {"x": {"field": "a", "type": "quantitative"}, "x2": {"field": "b"}, "y": {"field": "p", "type": "quantitative"}, "y2": {"field": "q"}}
    },
    {
      "data": {"values": [{"a": 202.13, "b": 216.18, "lo": 7280.29, "hi": 7294.22}]},
      "mark": {"type": "rect", "fill": "#060606", "stroke": "#a0a0a0", "strokeWidth": 1.5},
      "encoding": {"x": {"field": "a", "type": "quantitative"}, "x2": {"field": "b"}, "y": {"field": "lo", "type": "quantitative"}, "y2": {"field": "hi"}}
    },
    {
      "data": {"values": [{}]},
      "mark": {"type": "text", "align": "left", "baseline": "alphabetic", "fontSize": 19.5, "lineHeight": 23, "color": "#ffffff"},
      "encoding": {
        "x": {"datum": 202.39, "type": "quantitative"},
        "y": {"datum": 7291.07, "type": "quantitative"},
        "text": {"value": ["NQ 12-18 1000 Tick", "# bars:", "Time:", "Y value:"]}
      }
    },
    {
      "data": {"values": [{}]},
      "mark": {"type": "text", "align": "left", "baseline": "alphabetic", "fontSize": 19.5, "lineHeight": 23, "color": "#ffffff"},
      "encoding": {
        "x": {"datum": 209.25, "type": "quantitative"},
        "y": {"datum": 7287.69, "type": "quantitative"},
        "text": {"value": ["52", "00:16:00", "\u00a0-231"]}
      }
    },
    {
      "data": {"values": [{}]},
      "mark": {"type": "text", "align": "left", "baseline": "middle", "fontSize": 19, "color": "#ffffff"},
      "encoding": {
        "x": {"datum": -0.8, "type": "quantitative"},
        "y": {"datum": 7421.6, "type": "quantitative"},
        "text": {"value": "TimeSlot(6:0 \u00a0\u00a0\u00a016:0), OgresTickCounter(NQ 12-18 (1000 Tick),True,False), EMA(NQ 12-18 (1000 Tick),9)"}
      }
    },
    {
      "data": {"values": [{}]},
      "mark": {"type": "text", "align": "left", "baseline": "middle", "fontSize": 18.5, "color": "#ffffff"},
      "encoding": {
        "x": {"datum": -0.8, "type": "quantitative"},
        "y": {"datum": 7238.0, "type": "quantitative"},
        "text": {"value": "\u00a9 2018 NinjaTrader, LLC"}
      }
    },
    {
      "data": {"values": [{}]},
      "mark": {"type": "text", "align": "left", "baseline": "middle", "fontSize": 9, "color": "#dddddd"},
      "encoding": {
        "x": {"datum": -0.8, "type": "quantitative"},
        "y": {"datum": 7228.2, "type": "quantitative"},
        "text": {"value": "NQ 12-18 1000 Tick"}
      }
    },
    {
      "data": {"values": [{}]},
      "mark": {"type": "text", "align": "right", "baseline": "middle", "fontSize": 16, "color": "#d8d8d8"},
      "encoding": {
        "x": {"datum": 242.15, "type": "quantitative"},
        "y": {"datum": 7228.6, "type": "quantitative"},
        "text": {"value": "NINJA"}
      }
    },
    {
      "data": {"values": [{}]},
      "mark": {"type": "text", "align": "left", "baseline": "middle", "fontSize": 16, "color": "#e02020"},
      "encoding": {
        "x": {"datum": 242.15, "type": "quantitative"},
        "y": {"datum": 7228.6, "type": "quantitative"},
        "text": {"value": "TRADER"}
      }
    },
    {
      "data": {"values": [{}]},
      "mark": {"type": "text", "align": "right", "baseline": "middle", "fontSize": 19, "color": "#ff1a1a"},
      "encoding": {
        "x": {"datum": 241.4, "type": "quantitative"},
        "y": {"datum": 7420.8, "type": "quantitative"},
        "text": {"value": "-143.00"}
      }
    },
    {
      "data": {"values": [{}]},
      "mark": {"type": "text", "align": "left", "baseline": "middle", "fontSize": 22, "color": "#ffffff"},
      "encoding": {
        "x": {"datum": 232.4, "type": "quantitative"},
        "y": {"datum": 7256.3, "type": "quantitative"},
        "text": {"value": "915"}
      }
    },
    {
      "data": {"name": "markers"},
      "mark": {"type": "point", "shape": "M-1,0L-0.87,-0.28L1,-0.28L1,0.28L-0.87,0.28Z", "filled": true, "size": 8649, "stroke": "#ffffff", "strokeWidth": 1, "opacity": 1},
      "encoding": {
        "x": {"datum": 245.53, "type": "quantitative"},
        "y": {"field": "v", "type": "quantitative"},
        "fill": {"field": "k", "type": "nominal", "legend": null,
          "scale": {"domain": ["hi", "ema5", "ema4", "ema3", "ema1", "ema2", "last", "lo"], "range": ["#2e8b57", "#8a2be2", "#ffd700", "#f8f8ff", "#7cfc00", "#ff0000", "#000000", "#ff0000"]}}
      }
    },
    {
      "data": {"name": "markers"},
      "mark": {"type": "text", "align": "left", "baseline": "middle", "fontSize": 19},
      "encoding": {
        "x": {"datum": 243.17, "type": "quantitative"},
        "y": {"field": "v", "type": "quantitative"},
        "text": {"field": "v", "type": "quantitative", "format": ".2f"},
        "color": {"field": "k", "type": "nominal", "legend": null,
          "scale": {"domain": ["hi", "ema5", "ema4", "ema3", "ema1", "ema2", "last", "lo"], "range": ["#ffffff", "#ffffff", "#000000", "#000000", "#000000", "#ffffff", "#ffffff", "#ffffff"]}}
      }
    }
  ]
}
